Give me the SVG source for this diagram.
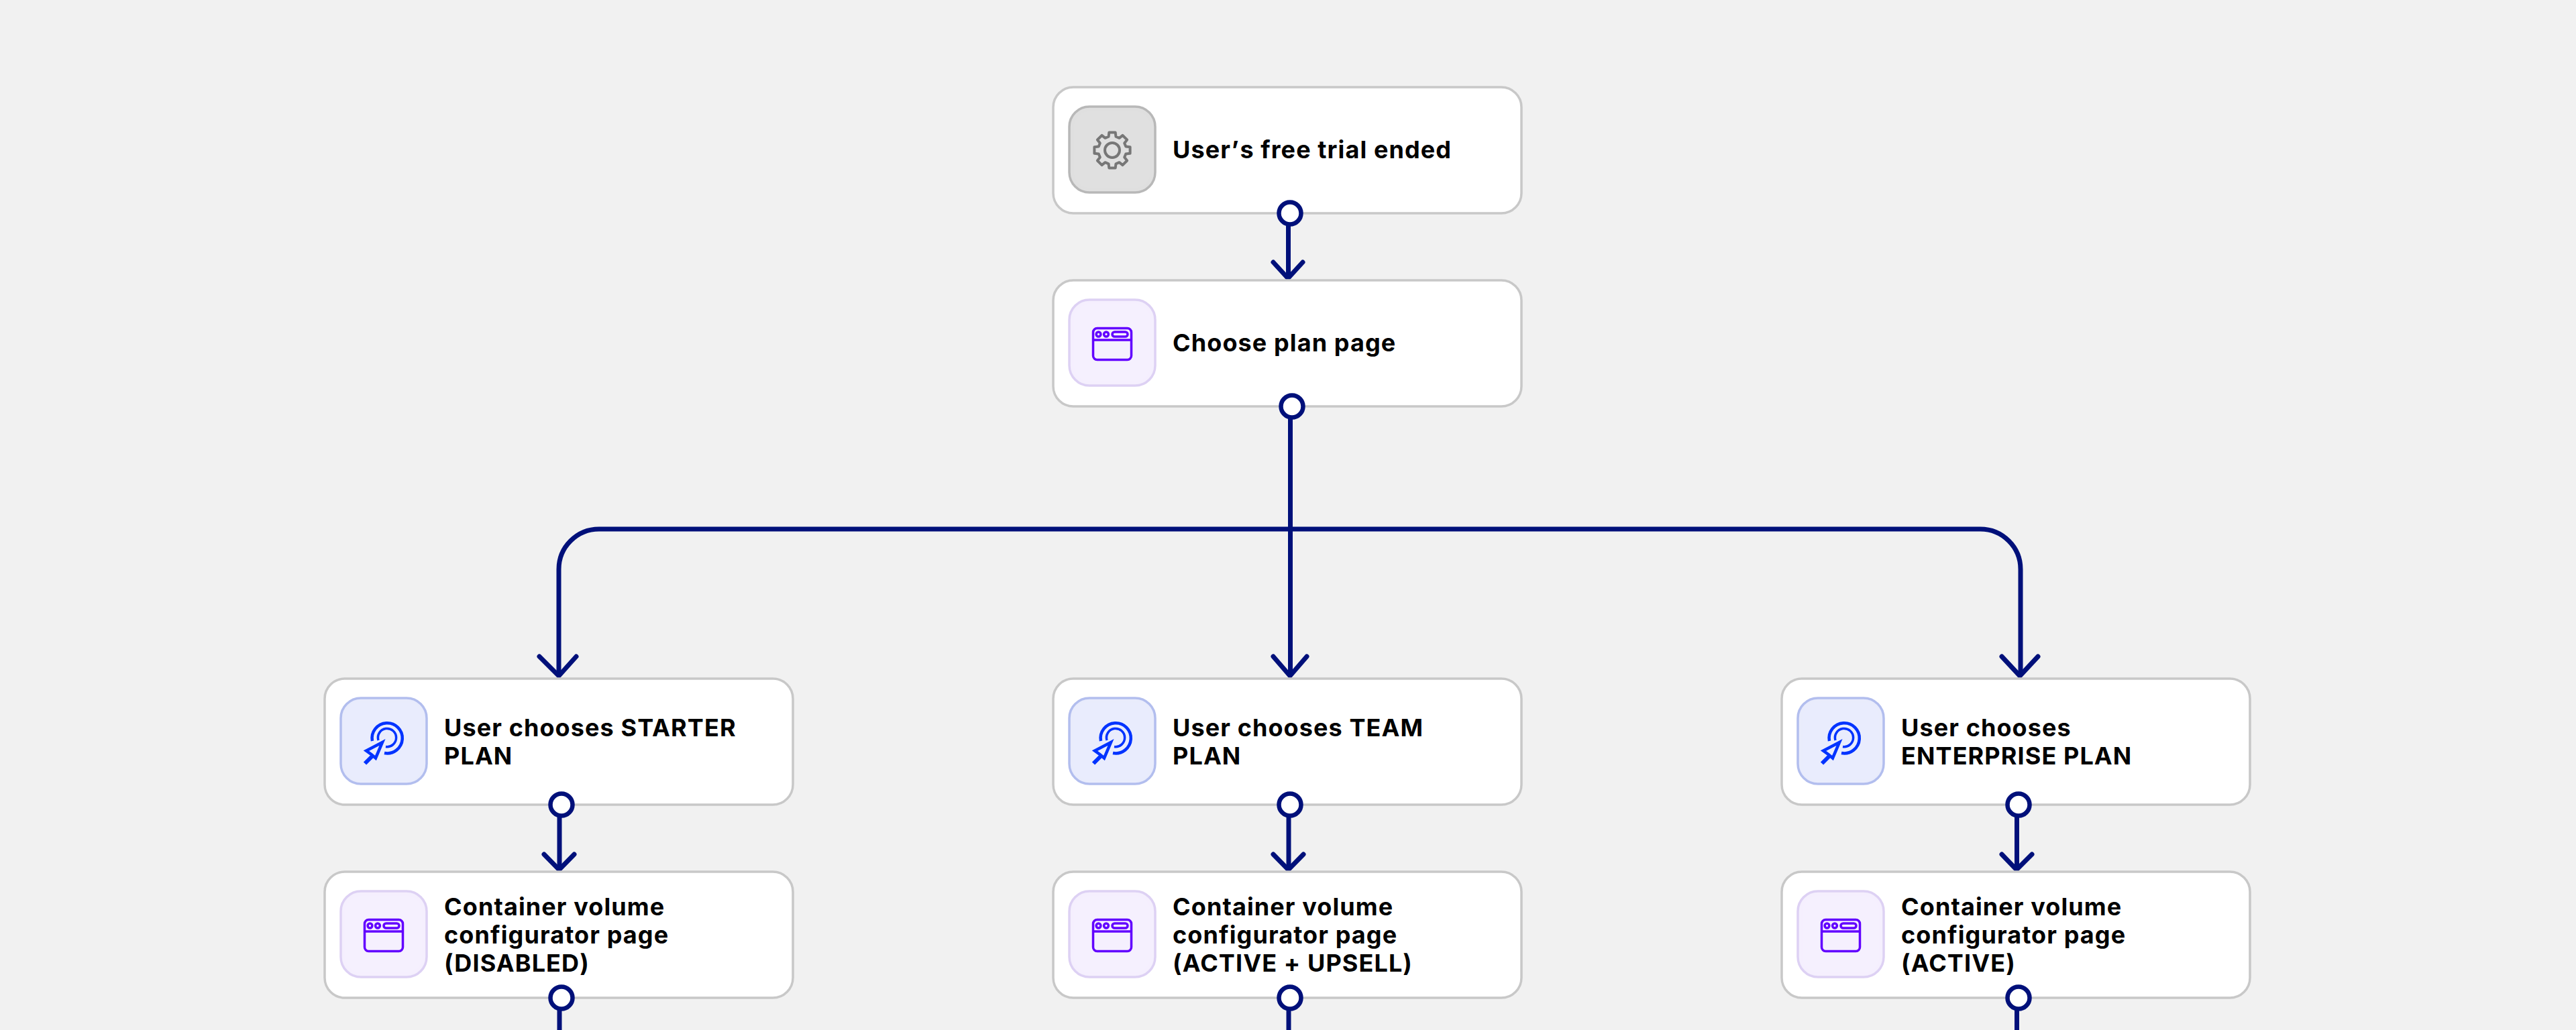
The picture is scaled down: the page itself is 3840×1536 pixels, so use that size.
<svg xmlns="http://www.w3.org/2000/svg" width="3840" height="1536" viewBox="0 0 3840 1536">
<style>
.box{fill:#fff;stroke:#c8c8c8;stroke-width:3.5}
.t{font-family:"Inter","Liberation Sans",sans-serif;font-weight:700;font-size:36px;letter-spacing:1.1px;fill:#000}
.c{fill:none;stroke:#00107a;stroke-width:7}
.a{fill:none;stroke:#00107a;stroke-width:7;stroke-linecap:round;stroke-linejoin:miter}
.p{fill:#fff;stroke:#00107a;stroke-width:6.500}
.ig{fill:none;stroke:#777;stroke-width:4;stroke-linejoin:round}
.iw{fill:none;stroke:#6200ff;stroke-width:3.5}
.it{fill:none;stroke:#0033ff;stroke-width:4.5}
.bg{fill:#e0e0e0;stroke:#b9b9b9;stroke-width:3.5}
.bw{fill:#f5f0fe;stroke:#dfd2f5;stroke-width:3.5}
.bt{fill:#e9ecfd;stroke:#b4bff0;stroke-width:3.5}
</style>
<defs>
<filter id="inner" x="-5%" y="-5%" width="110%" height="110%">
<feGaussianBlur in="SourceAlpha" stdDeviation="6" result="b"/>
<feComposite in="SourceAlpha" in2="b" operator="out" result="e"/>
<feFlood flood-color="#000" flood-opacity=".03"/>
<feComposite in2="e" operator="in" result="s"/>
<feMerge><feMergeNode in="SourceGraphic"/><feMergeNode in="s"/></feMerge>
</filter>
<g id="gear"><path class="ig" d="M-5.44-20.28L-4.69-26.59L4.69-26.59L5.44-20.28L10.49-18.19L15.49-22.12L22.12-15.49L18.19-10.49L20.28-5.44L26.59-4.69L26.59 4.69L20.28 5.44L18.19 10.49L22.12 15.49L15.49 22.12L10.49 18.19L5.44 20.28L4.69 26.59L-4.69 26.59L-5.44 20.28L-10.49 18.19L-15.49 22.12L-22.12 15.49L-18.19 10.49L-20.28 5.44L-26.59 4.69L-26.59-4.69L-20.28-5.44L-18.19-10.49L-22.12-15.49L-15.49-22.12L-10.49-18.19Z"/><circle class="ig" r="11"/></g>
<g id="win"><rect class="iw" x="-28.5" y="-23.5" width="57" height="47" rx="6"/><path class="iw" d="M-28.5-6H28.5"/><circle class="iw" cx="-20.5" cy="-14.5" r="3.4"/><circle class="iw" cx="-9" cy="-14.5" r="3.4"/><rect class="iw" x="0" y="-18" width="23" height="7" rx="3.5"/></g>
<g id="tap"><path class="it" d="M-17-.5A22.6 22.6 0 1 1 1 17.5"/><path class="iw" style="stroke:#0033ff" d="M-8-1.5A13.6 13.6 0 1 1 3 8"/><path class="it" d="M-2 1.5L-26 14L-18.5 19.5L-12 25Z"/><path class="it" style="stroke-width:6" d="M-16 21L-28 33"/></g>
</defs>
<rect width="3840" height="1536" fill="#f1f1f1"/>
<g id="connectors">
<path class="c" d="M1920.5 330V414"/>
<path class="a" d="M1898 391L1920 415L1942 391"/>
<path class="c" d="M1923.5 622V1008"/>
<path class="a" d="M1898 979L1923 1008L1948 979"/>
<path class="c" d="M833 1008V849A60 60 0 0 1 893 789H2952A60 60 0 0 1 3012 849V1008"/>
<path class="a" d="M804 979L833 1008L859 979"/>
<path class="a" d="M2984 979L3011 1008L3038 979"/>
<path class="c" d="M834 1215V1296"/>
<path class="a" d="M811 1274L833.500 1297L856 1274"/>
<path class="c" d="M1921 1215V1296"/>
<path class="a" d="M1898 1274L1920.500 1297L1943 1274"/>
<path class="c" d="M3006.500 1215V1296"/>
<path class="a" d="M2984 1274L3006 1297L3029 1274"/>
<path class="c" d="M834 1500V1536"/>
<path class="c" d="M1921 1500V1536"/>
<path class="c" d="M3006.500 1500V1536"/>
</g>
<g id="n1"><rect class="box" x="1570" y="130" width="698" height="188" rx="30"/><rect class="bg" filter="url(#inner)" x="1594" y="159" width="128" height="128" rx="30"/><use href="#gear" x="1658" y="224"/><text class="t" x="1748" y="236">User’<tspan dx="3">s free trial ended</tspan></text></g>
<g id="n2"><rect class="box" x="1570" y="418" width="698" height="188" rx="30"/><rect class="bw" filter="url(#inner)" x="1594" y="447" width="128" height="128" rx="30"/><use href="#win" x="1658" y="513"/><text class="t" x="1748" y="524">Choose plan page</text></g>
<g id="n3"><rect class="box" x="484" y="1012" width="698" height="188" rx="30"/><rect class="bt" filter="url(#inner)" x="508" y="1041" width="128" height="128" rx="30"/><use href="#tap" x="572" y="1105.500"/><text class="t" x="662" y="1098">User chooses STARTER</text><text class="t" x="662" y="1140">PLAN</text></g>
<g id="n4"><rect class="box" x="1570" y="1012" width="698" height="188" rx="30"/><rect class="bt" filter="url(#inner)" x="1594" y="1041" width="128" height="128" rx="30"/><use href="#tap" x="1658" y="1105.500"/><text class="t" x="1748" y="1098">User chooses TEAM</text><text class="t" x="1748" y="1140">PLAN</text></g>
<g id="n5"><rect class="box" x="2656" y="1012" width="698" height="188" rx="30"/><rect class="bt" filter="url(#inner)" x="2680" y="1041" width="128" height="128" rx="30"/><use href="#tap" x="2744" y="1105.500"/><text class="t" x="2834" y="1098">User chooses</text><text class="t" x="2834" y="1140">ENTERPRISE PLAN</text></g>
<g id="n6"><rect class="box" x="484" y="1300" width="698" height="188" rx="30"/><rect class="bw" filter="url(#inner)" x="508" y="1329" width="128" height="128" rx="30"/><use href="#win" x="572" y="1395"/><text class="t" x="662" y="1365">Container volume</text><text class="t" x="662" y="1407">configurator page</text><text class="t" x="662" y="1449">(DISABLED)</text></g>
<g id="n7"><rect class="box" x="1570" y="1300" width="698" height="188" rx="30"/><rect class="bw" filter="url(#inner)" x="1594" y="1329" width="128" height="128" rx="30"/><use href="#win" x="1658" y="1395"/><text class="t" x="1748" y="1365">Container volume</text><text class="t" x="1748" y="1407">configurator page</text><text class="t" x="1748" y="1449">(ACTIVE + UPSELL)</text></g>
<g id="n8"><rect class="box" x="2656" y="1300" width="698" height="188" rx="30"/><rect class="bw" filter="url(#inner)" x="2680" y="1329" width="128" height="128" rx="30"/><use href="#win" x="2744" y="1395"/><text class="t" x="2834" y="1365">Container volume</text><text class="t" x="2834" y="1407">configurator page</text><text class="t" x="2834" y="1449">(ACTIVE)</text></g>
<g id="ports">
<circle class="p" cx="1923" cy="318" r="16.500"/>
<circle class="p" cx="1926" cy="606" r="16.500"/>
<circle class="p" cx="837" cy="1200" r="16.500"/>
<circle class="p" cx="1923" cy="1200" r="16.500"/>
<circle class="p" cx="3009" cy="1200" r="16.500"/>
<circle class="p" cx="837" cy="1488" r="16.500"/>
<circle class="p" cx="1923" cy="1488" r="16.500"/>
<circle class="p" cx="3009" cy="1488" r="16.500"/>
</g>
</svg>
